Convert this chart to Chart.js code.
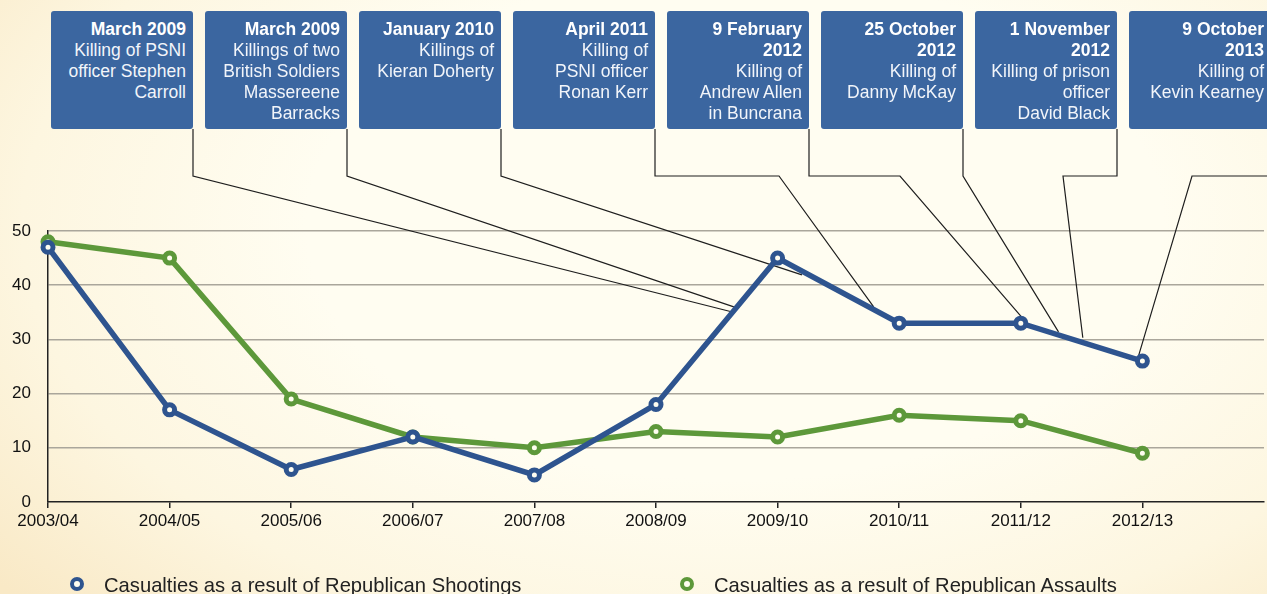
<!DOCTYPE html>
<html>
<head>
<meta charset="utf-8">
<script src="https://cdn.jsdelivr.net/npm/chart.js@4.4.1/dist/chart.umd.min.js"></script>
<style>
    html, body { margin: 0; padding: 0; }
    body {
        width: 1267px; height: 594px; overflow: hidden; position: relative;
        font-family: "Liberation Sans", Arial, sans-serif;
        background: radial-gradient(ellipse 75% 95% at 58% 38%, #fffdf1 45%, #fdf6e0 75%, #f9e9c6 100%);
    }
    #wrap { position: absolute; left: 0; top: 0; width: 1274px; height: 594px; }
    .event {
        position: absolute; top: 11px; width: 142px; height: 118px;
        box-sizing: border-box; padding: 8px 7px 0 0;
        background: #3b66a0; border-radius: 3px;
        color: #f2f5fa; text-align: right; white-space: pre;
        font-size: 17.5px; line-height: 21px;
    }
    .event b { color: #fff; }
    .legend-item { position: absolute; top: 574px; font-size: 20.2px; color: #222; white-space: nowrap; }
    .legend-item span {
        display: inline-block; width: 6px; height: 6px; border-radius: 50%;
        border: 4px solid; background: #fffdf0; margin-right: 20px; vertical-align: 1px;
    }
</style>
</head>
<body>
<div id="wrap"><canvas id="casualtyChart" width="1274" height="594"></canvas></div>

<script>
// financial years on the x axis (one empty slot so the axis runs on to the edge)
const seasons = ['2003/04', '2004/05', '2005/06', '2006/07', '2007/08', '2008/09', '2009/10', '2010/11', '2011/12', '2012/13'];
const shootings = [47, 17, 6, 12, 5, 18, 45, 33, 33, 26];
const assaults = [48, 45, 19, 12, 10, 13, 12, 16, 15, 9];
const yTicks = [0, 10, 20, 30, 40, 50];

// event call-outs
const eventDates = ['March 2009', 'March 2009', 'January 2010', 'April 2011', '9 February\n2012', '25 October\n2012', '1 November\n2012', '9 October\n2013'];
const eventTexts = [
    'Killing of PSNI\nofficer Stephen\nCarroll',
    'Killings of two\nBritish Soldiers\nMassereene\nBarracks',
    'Killings of\nKieran Doherty',
    'Killing of\nPSNI officer\nRonan Kerr',
    'Killing of\nAndrew Allen\nin Buncrana',
    'Killing of\nDanny McKay',
    'Killing of prison\nofficer\nDavid Black',
    'Killing of\nKevin Kearney'
];
// where each call-out line meets the shootings line (category index, value)
const eventAtIndex = [5.62, 5.64, 6.2, 6.79, 8.05, 8.31, 8.51, 8.97];
const eventAtValue = [35.1, 36.0, 41.9, 36.0, 33.0, 31.4, 30.3, 27.1];

const BLUE = '#2e548f';
const GREEN = '#5d983a';
const BOX_LEFT = 51, BOX_STEP = 154, BOX_W = 142, BOX_BOTTOM = 129, ELBOW_Y = 176;
const elbowX = [null, null, null, 779, 900, null, 1063, 1192];

// boxes
eventDates.forEach(function(d, i) {
    const div = document.createElement('div');
    div.className = 'event';
    div.style.left = (BOX_LEFT + i * BOX_STEP) + 'px';
    div.innerHTML = '<b>' + d + '</b>\n' + eventTexts[i];
    document.body.appendChild(div);
});

// legend
[['Casualties as a result of Republican Shootings', BLUE, 70], ['Casualties as a result of Republican Assaults', GREEN, 680]].forEach(function(it) {
    const div = document.createElement('div');
    div.className = 'legend-item';
    div.style.left = it[2] + 'px';
    div.innerHTML = '<span style="border-color:' + it[1] + '"></span>' + it[0];
    document.body.appendChild(div);
});

// connector lines from the boxes down to the data line
const connectors = {
    id: 'connectors',
    beforeDatasetsDraw(chart) {
        const ctx = chart.ctx;
        const x = chart.scales.x, y = chart.scales.y;
        ctx.save();
        ctx.strokeStyle = '#1e1e1e';
        ctx.lineWidth = 1.2;
        eventAtIndex.forEach(function(xi, i) {
            const right = BOX_LEFT + i * BOX_STEP + BOX_W;
            ctx.beginPath();
            ctx.moveTo(right, BOX_BOTTOM);
            ctx.lineTo(right, ELBOW_Y);
            if (elbowX[i] !== null) ctx.lineTo(elbowX[i], ELBOW_Y);
            ctx.lineTo(x.getPixelForValue(xi), y.getPixelForValue(eventAtValue[i]));
            ctx.stroke();
        });
        ctx.restore();
    }
};

const tickFont = { family: '"Liberation Sans", Arial, sans-serif', size: 17 };

function series(label, values, color) {
    return {
        label: label,
        data: values,
        borderColor: color,
        backgroundColor: '#fffdf0',
        borderWidth: 5.5,
        pointRadius: 5,
        pointBorderWidth: 5,
        pointBorderColor: color,
        pointBackgroundColor: '#fffdf0',
        tension: 0
    };
}

new Chart(document.getElementById('casualtyChart'), {
    type: 'line',
    data: {
        labels: seasons.concat(['']),
        datasets: [
            series('Casualties as a result of Republican Shootings', shootings, BLUE),
            series('Casualties as a result of Republican Assaults', assaults, GREEN)
        ]
    },
    options: {
        responsive: false,
        animation: false,
        layout: { padding: { top: 231, right: 2, left: 0, bottom: 0 } },
        plugins: { legend: { display: false }, tooltip: { enabled: false } },
        scales: {
            x: {
                offset: false,
                afterFit: function(s) { s.height = 92; },
                border: { color: '#222', width: 1.5 },
                grid: {
                    drawOnChartArea: false,
                    tickLength: 6,
                    lineWidth: 1.5,
                    color: function(c) { return c.index === seasons.length ? 'rgba(0,0,0,0)' : '#222'; }
                },
                ticks: { font: tickFont, color: '#111', padding: 3, maxRotation: 0, autoSkip: false }
            },
            y: {
                min: 0,
                max: 50,
                afterFit: function(s) { s.width = 48; },
                afterBuildTicks: function(s) { s.ticks = yTicks.map(function(v) { return { value: v }; }); },
                border: { color: '#222', width: 1.5 },
                grid: {
                    drawTicks: false,
                    lineWidth: 1.5,
                    color: function(c) { return c.tick && c.tick.value === 0 ? 'rgba(0,0,0,0)' : '#aaa69b'; }
                },
                ticks: { font: tickFont, color: '#111', padding: 17 }
            }
        }
    },
    plugins: [connectors]
});
</script>
</body>
</html>
